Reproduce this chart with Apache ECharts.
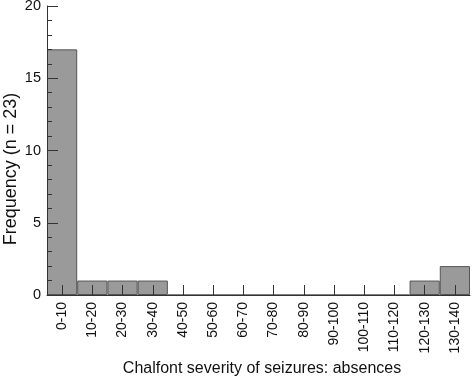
<!DOCTYPE html>
<html>
<head>
<meta charset="utf-8">
<script src="https://cdn.jsdelivr.net/npm/echarts@6/dist/echarts.min.js"></script>
<style>
  html, body { margin: 0; padding: 0; background: #fff; }
  #main { width: 472px; height: 380px; }
</style>
</head>
<body>
<div id="main"></div>
<script>
var categories = ['0-10', '10-20', '20-30', '30-40', '40-50', '50-60', '60-70', '70-80',
  '80-90', '90-100', '100-110', '110-120', '120-130', '130-140'];
var counts = [17, 1, 1, 1, 0, 0, 0, 0, 0, 0, 0, 0, 1, 2];
var yTicks = [0, 5, 10, 15, 20];

var myChart = echarts.init(document.getElementById('main'));
var font = '"Liberation Sans", Arial, sans-serif';
var option = {
  animation: false,
  grid: { left: 47, right: 2, top: 6, bottom: 85, outerBoundsMode: 'none', containLabel: false },
  graphic: [{
    type: 'text',
    x: 11,
    y: 169,
    rotation: Math.PI / 2,
    style: {
      text: 'Frequency (n = 23)',
      fill: '#111',
      font: '18px ' + font,
      align: 'center',
      verticalAlign: 'middle'
    }
  }, {
    // x axis title
    type: 'text',
    x: 262,
    y: 369,
    style: {
      text: 'Chalfont severity of seizures: absences',
      fill: '#111',
      font: '16px ' + font,
      align: 'center',
      verticalAlign: 'middle'
    }
  }],
  xAxis: {
    type: 'category',
    data: categories,
    z: 5,
    axisLine: { lineStyle: { color: '#333', width: 1 } },
    axisTick: { show: true, alignWithLabel: true, inside: true, length: 10, lineStyle: { color: '#333' } },
    axisLabel: { rotate: 90, color: '#111', fontSize: 14, fontFamily: font, margin: 7, interval: 0 }
  },
  yAxis: {
    type: 'value',
    z: 5,
    min: yTicks[0],
    max: yTicks[yTicks.length - 1],
    interval: 5,
    axisLine: { show: true, lineStyle: { color: '#333', width: 1 } },
    axisTick: { show: true, inside: true, length: 11, lineStyle: { color: '#333' } },
    minorTick: { show: true, splitNumber: 5, length: 5, lineStyle: { color: '#333' } },
    splitLine: { show: false },
    axisLabel: { color: '#111', fontSize: 14.5, fontFamily: font, margin: 6 }
  },
  series: [{
    type: 'bar',
    data: counts,
    barCategoryGap: 0,
    z: 1,
    itemStyle: { color: '#9a9a9a', borderColor: '#555', borderWidth: 1 }
  }]
};
myChart.setOption(option);
</script>
</body>
</html>
